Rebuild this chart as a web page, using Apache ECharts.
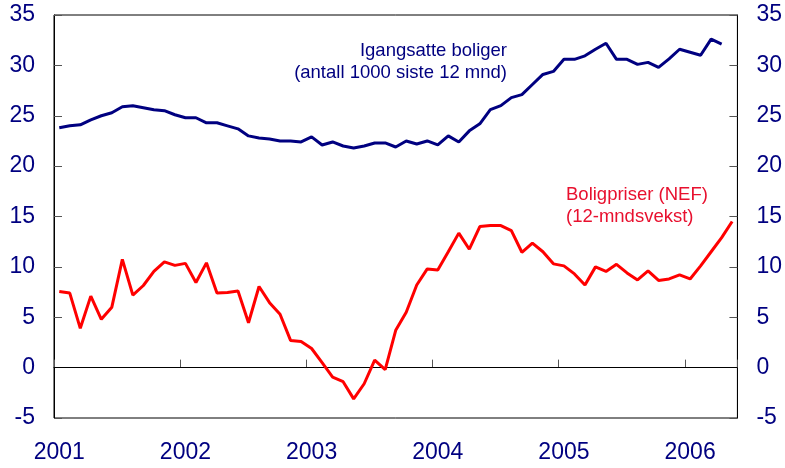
<!DOCTYPE html>
<html>
<head>
<meta charset="utf-8">
<script src="https://cdn.jsdelivr.net/npm/echarts@6/dist/echarts.min.js"></script>
<style>
html,body{margin:0;padding:0;background:#fff;}
#chart{width:785px;height:468px;}
</style>
</head>
<body>
<div id="chart"></div>
<script>
// Years on the axis (one category per month, Jan 2001 – May 2006)
var years = ['2001', '2002', '2003', '2004', '2005', '2006'];
var monthsInLastYear = 5;

// Igangsatte boliger (antall 1000 siste 12 mnd), Jan 2001 – Apr 2006
var igangsatte = [
  23.8, 24.0, 24.1, 24.6, 25.0, 25.3, 25.9, 26.0, 25.8, 25.6, 25.5, 25.1,
  24.8, 24.8, 24.3, 24.3, 24.0, 23.7, 23.0, 22.8, 22.7, 22.5, 22.5, 22.4,
  22.9, 22.1, 22.4, 22.0, 21.8, 22.0, 22.3, 22.3, 21.9, 22.5, 22.2, 22.5,
  22.1, 23.0, 22.4, 23.5, 24.2, 25.6, 26.0, 26.8, 27.1, 28.1, 29.1, 29.4,
  30.6, 30.6, 30.95, 31.6, 32.2, 30.6, 30.6, 30.1, 30.3, 29.8, 30.65, 31.6,
  31.3, 31.0, 32.6, 32.1
];

// Boligpriser (NEF), 12-mndsvekst, Jan 2001 – May 2006
var boligpriser = [
  7.55, 7.4, 3.9, 7.1, 4.8, 6.0, 10.75, 7.2, 8.15, 9.55, 10.5, 10.15,
  10.35, 8.45, 10.4, 7.4, 7.45, 7.6, 4.45, 8.05, 6.45, 5.3, 2.7, 2.6,
  1.9, 0.5, -0.95, -1.4, -3.1, -1.6, 0.75, -0.2, 3.7, 5.5, 8.2, 9.8,
  9.7, 11.5, 13.35, 11.75, 14.0, 14.1, 14.1, 13.6, 11.45, 12.35, 11.5, 10.3,
  10.1, 9.3, 8.2, 10.0, 9.55, 10.25, 9.4, 8.7, 9.6, 8.65, 8.8, 9.2,
  8.8, 10.1, 11.5, 12.9, 14.5
];

// Y-axis ticks
var yMin = -5, yMax = 35, yStep = 5;

var categories = [];
years.forEach(function (y, yi) {
  var n = (yi === years.length - 1) ? monthsInLastYear : 12;
  for (var m = 1; m <= n; m++) categories.push(y + '-' + (m < 10 ? '0' + m : m));
});

var navy = '#000080';
var red = '#ff0000';
var font = 'Liberation Sans, Arial, sans-serif';

var chart = echarts.init(document.getElementById('chart'), null, {renderer: 'canvas'});

function yAxisDef(pos) {
  return {
    type: 'value', position: pos, min: yMin, max: yMax, interval: yStep,
    axisLine: {show: true, lineStyle: {color: '#000', width: 1}},
    axisTick: {show: true, inside: true, length: 8, lineStyle: {color: '#555', width: 1}},
    axisLabel: {color: navy, fontSize: 23, fontFamily: font, margin: 19},
    splitLine: {show: false}
  };
}

chart.setOption({
  animation: false,
  backgroundColor: '#fff',
  grid: {left: 54, right: 47, top: 15, bottom: 50, show: true, borderColor: '#000', borderWidth: 1, containLabel: false},
  xAxis: {
    type: 'category', data: categories, boundaryGap: true,
    axisLine: {show: true, lineStyle: {color: '#000', width: 1}},
    axisTick: {show: true, inside: true, length: 8, alignWithLabel: false,
      interval: function (i) { return i % 12 === 0; },
      lineStyle: {color: '#555', width: 1}},
    axisLabel: {color: navy, fontSize: 23, fontFamily: font, margin: 23,
      interval: function (i) { return i % 12 === 0; },
      formatter: function (v) { return v.slice(0, 4); }},
    splitLine: {show: false}
  },
  yAxis: [yAxisDef('left'), yAxisDef('right')],
  series: [
    {
      name: 'Igangsatte boliger', type: 'line', data: igangsatte, yAxisIndex: 0,
      symbol: 'none', lineStyle: {color: navy, width: 3}, itemStyle: {color: navy}, z: 3
    },
    {
      name: 'Boligpriser', type: 'line', data: boligpriser, yAxisIndex: 0,
      symbol: 'none', lineStyle: {color: red, width: 3}, itemStyle: {color: red}, z: 3,
      markLine: {
        silent: true, symbol: ['none', 'none'], label: {show: false},
        lineStyle: {color: '#000', width: 1, type: 'solid'},
        data: [{yAxis: 0}], z: 1
      }
    }
  ],
  graphic: [
    {type: 'text', left: null, x: 507, y: 51, style: {text: 'Igangsatte boliger', fill: navy, font: '18.5px ' + font, textAlign: 'right', textVerticalAlign: 'middle'}},
    {type: 'text', x: 507, y: 73, style: {text: '(antall 1000 siste 12 mnd)', fill: navy, font: '18.5px ' + font, textAlign: 'right', textVerticalAlign: 'middle'}},
    {type: 'text', x: 566, y: 195, style: {text: 'Boligpriser (NEF)', fill: '#e8102e', font: '18.5px ' + font, textAlign: 'left', textVerticalAlign: 'middle'}},
    {type: 'text', x: 566, y: 217, style: {text: '(12-mndsvekst)', fill: '#e8102e', font: '18.5px ' + font, textAlign: 'left', textVerticalAlign: 'middle'}}
  ]
});
</script>
</body>
</html>
